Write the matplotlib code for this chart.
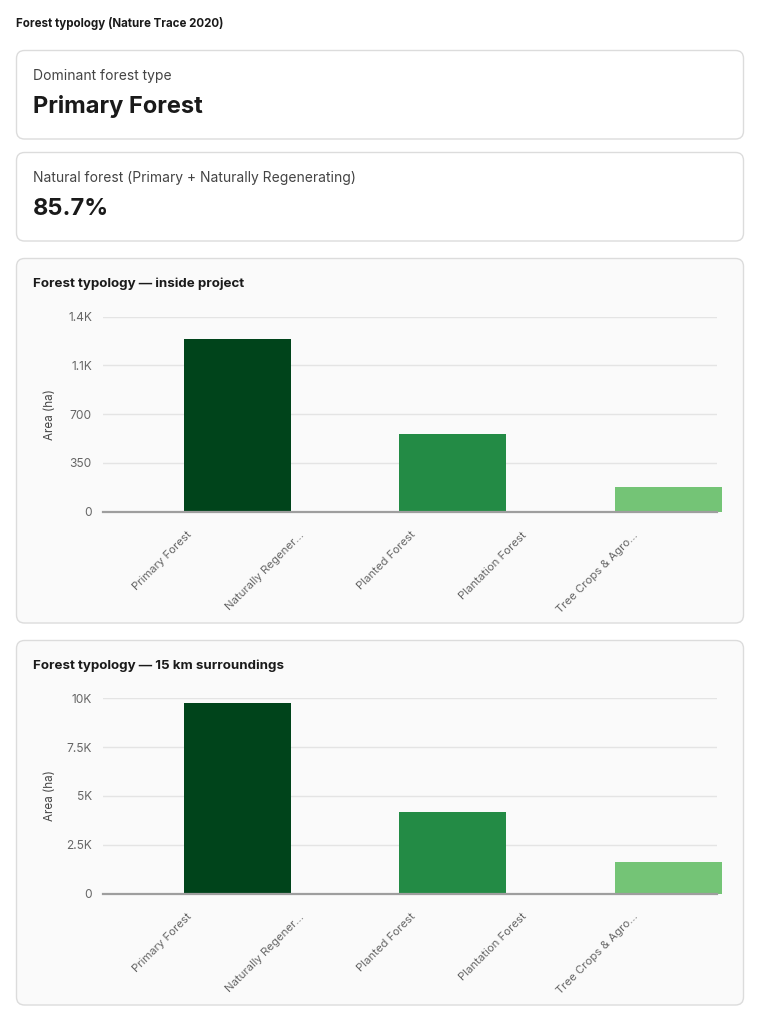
import matplotlib
matplotlib.use("Agg")
import matplotlib.pyplot as plt
from matplotlib.patches import FancyBboxPatch

plt.rcParams['font.family'] = ['Inter', 'DejaVu Sans']

# --- data ---
axis_labels = ["Primary Forest", "Naturally Regener...", "Planted Forest",
               "Plantation Forest", "Tree Crops & Agro..."]
bar_names = ["Primary Forest", "Planted Forest", "Tree Crops & Agroforestry"]
bar_colors = ["#00441b", "#238b45", "#74c476"]
inside_vals = [1238, 558, 175]
surround_vals = [9740, 4190, 1595]
inside_ticks = [0, 350, 700, 1050, 1400]
inside_ticklabels = ["0", "350", "700", "1.1K", "1.4K"]
surround_ticks = [0, 2500, 5000, 7500, 10000]
surround_ticklabels = ["0", "2.5K", "5K", "7.5K", "10K"]

dominant_type = "Primary Forest"
natural_share = "85.7%"

W, H = 760, 1022
fig = plt.figure(figsize=(W / 100, H / 100), dpi=100)
fig.patch.set_facecolor("white")

# background layer in pixel coords
bg = fig.add_axes([0, 0, 1, 1], zorder=0)
bg.set_xlim(0, W)
bg.set_ylim(H, 0)
bg.axis("off")


def card(y0, y1, face):
    p = FancyBboxPatch((16.5, y0), 727, y1 - y0,
                       boxstyle="round,pad=0,rounding_size=8",
                       fc=face, ec="#dcdcdc", lw=1.0)
    bg.add_patch(p)


bg.text(16, 23, "Forest typology (Nature Trace 2020)", fontsize=8.3,
        fontweight="bold", color="#1a1a1a", va="center")

card(50.5, 139, "white")
bg.text(33, 76, "Dominant forest type", fontsize=10, color="#444444", va="center")
bg.text(33, 106, dominant_type, fontsize=17, fontweight="bold", color="#1a1a1a", va="center")

card(152.5, 241, "white")
bg.text(33, 178, "Natural forest (Primary + Naturally Regenerating)", fontsize=10,
        color="#444444", va="center")
bg.text(33, 209, natural_share, fontsize=17, fontweight="bold", color="#1a1a1a", va="center")

card(258.5, 623, "#fafafa")
bg.text(33, 284, "Forest typology \u2014 inside project", fontsize=9.6,
        fontweight="bold", color="#1a1a1a", va="center")

card(640.5, 1005, "#fafafa")
bg.text(33, 666, "Forest typology \u2014 15 km surroundings", fontsize=9.6,
        fontweight="bold", color="#1a1a1a", va="center")


def chart(top_px, zero_px, vals, ticks, ticklabels):
    left, right = 103, 717
    rect = [left / W, 1 - zero_px / H, (right - left) / W, (zero_px - top_px) / H]
    ax = fig.add_axes(rect, zorder=2)
    ax.set_facecolor("none")
    ax.bar(range(len(vals)), vals, width=0.495, color=bar_colors,
           zorder=3, clip_on=False)
    ax.set_xlim(-0.623, 2.226)
    ax.set_ylim(ticks[0], ticks[-1])
    ax.set_yticks(ticks)
    ax.set_yticklabels(ticklabels)
    ax.set_xticks([])
    ax.yaxis.grid(True, color="#e4e4e4", lw=1.0, zorder=0)
    ax.set_axisbelow(True)
    for s in ["top", "right", "left"]:
        ax.spines[s].set_visible(False)
    ax.spines["bottom"].set_color("#9e9e9e")
    ax.spines["bottom"].set_linewidth(1.6)
    ax.spines["bottom"].set_zorder(4)
    ax.tick_params(axis="y", length=0, pad=8, labelsize=8.6, labelcolor="#666666")
    ax.set_ylabel("Area (ha)", fontsize=8.4, color="#444444")
    ax.yaxis.set_label_coords(-0.077, 0.5)

    lab = ax.twiny()
    lab.set_xlim(-0.753, 4.753)
    lab.set_xticks(range(len(axis_labels)))
    lab.set_xticklabels(axis_labels, rotation=45, ha="right", va="top",
                        rotation_mode="anchor")
    lab.xaxis.tick_bottom()
    lab.tick_params(axis="x", length=0, pad=13, labelsize=8.2, labelcolor="#666666")
    for s in lab.spines.values():
        s.set_visible(False)
    return ax


chart(316.7, 511.7, inside_vals, inside_ticks, inside_ticklabels)
chart(698.3, 893.5, surround_vals, surround_ticks, surround_ticklabels)

fig.savefig("out.png", dpi=100, facecolor="white")
